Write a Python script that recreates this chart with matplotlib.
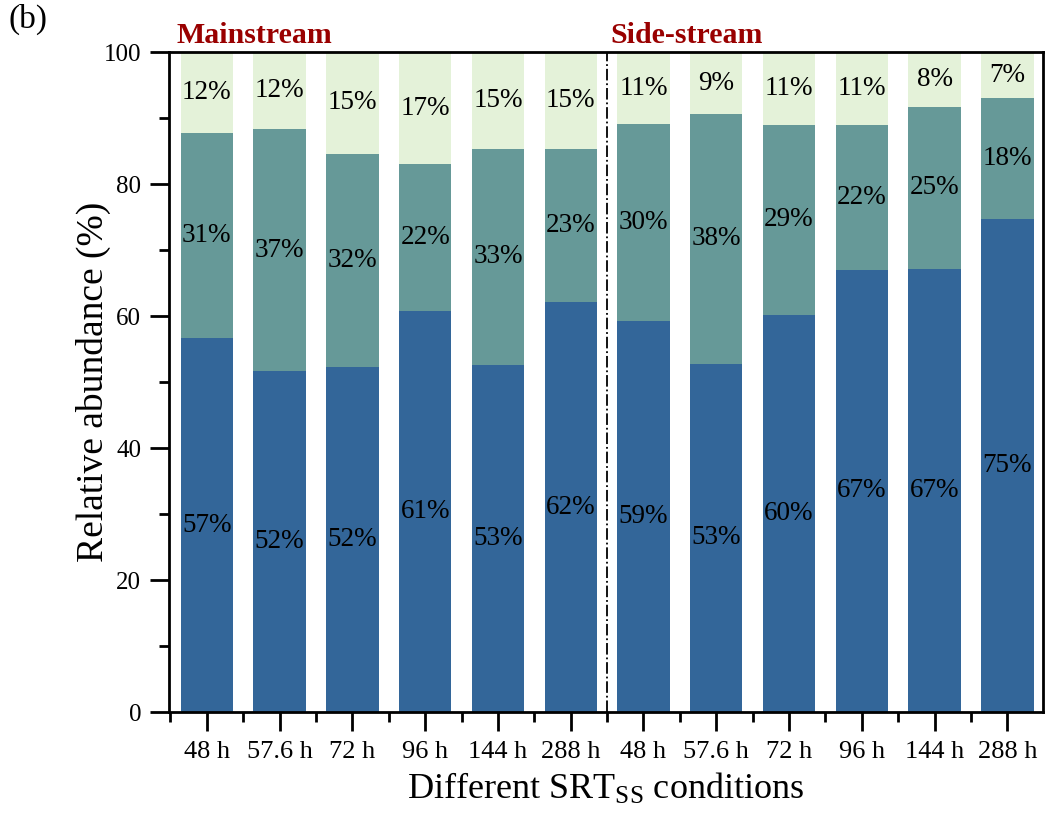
import numpy as np
import matplotlib
matplotlib.use("Agg")
import matplotlib.pyplot as plt
from matplotlib.ticker import MultipleLocator, FixedLocator

plt.rcParams['font.family'] = ['Liberation Serif', 'DejaVu Serif']
plt.rcParams['mathtext.fontset'] = 'custom'
plt.rcParams['mathtext.rm'] = 'Liberation Serif'
plt.rcParams['mathtext.it'] = 'Liberation Serif:italic'

# SRT conditions, mainstream then side-stream
conditions = ['48 h', '57.6 h', '72 h', '96 h', '144 h', '288 h',
              '48 h', '57.6 h', '72 h', '96 h', '144 h', '288 h']

# relative abundance of the three groups (%), bottom to top
bottom_vals = [56.6, 51.7, 52.3, 60.7, 52.6, 62.1, 59.3, 52.8, 60.2, 67.0, 67.1, 74.7]
middle_vals = [31.1, 36.6, 32.3, 22.3, 32.7, 23.2, 29.8, 37.8, 28.8, 22.0, 24.6, 18.3]
top_vals = [12.3, 11.7, 15.4, 17.0, 14.7, 14.7, 10.9, 9.4, 11.0, 11.0, 8.3, 7.0]

colors = ['#336699', '#669998', '#e4f2d9']

fig = plt.figure(figsize=(10.46, 8.13), dpi=100)
ax = fig.add_axes([0.1616, 0.1242, 0.8355, 0.8118])

x = np.arange(len(conditions))
width = 0.72
base = np.zeros(len(conditions))
for vals, c in zip([bottom_vals, middle_vals, top_vals], colors):
    vals = np.array(vals)
    ax.bar(x, vals, width=width, bottom=base, color=c, edgecolor='none')
    for xi, b, v in zip(x, base, vals):
        ax.text(xi, b + v / 2, '%.0f%%' % v, ha='center', va='center', fontsize=19.5)
    base = base + vals

# separator between mainstream and side-stream
ax.axvline(5.5, color='black', linestyle='-.', linewidth=1.3)

ax.set_xlim(-0.52, 11.49)
ax.set_ylim(0, 100)

ax.set_xticks(x)
ax.set_xticklabels(conditions, fontsize=19)
ax.xaxis.set_minor_locator(FixedLocator(np.arange(-0.5, 12, 1.0)))
ax.yaxis.set_major_locator(MultipleLocator(20))
ax.yaxis.set_minor_locator(MultipleLocator(10))
ax.tick_params(axis='y', labelsize=18, pad=6)
ax.tick_params(which='major', direction='out', length=14, width=2)
ax.tick_params(which='minor', direction='out', length=7, width=2)
ax.tick_params(axis='x', which='major', pad=7)
for s in ax.spines.values():
    s.set_linewidth(2)

ax.set_ylabel('Relative abundance (%)', fontsize=27, labelpad=-5)
ax.set_xlabel('Different SRT$_{\\mathrm{SS}}$ conditions', fontsize=26, labelpad=6)

ax.text(-0.42, 1.004, 'Mainstream', transform=ax.get_xaxis_transform(),
        ha='left', va='bottom', fontsize=21.5, fontweight='bold', color='#990000')
ax.text(5.55, 1.004, 'Side-stream', transform=ax.get_xaxis_transform(),
        ha='left', va='bottom', fontsize=21.5, fontweight='bold', color='#990000')
fig.text(0.008, 0.995, '(b)', ha='left', va='top', fontsize=24)

fig.savefig('out.png', dpi=100)
